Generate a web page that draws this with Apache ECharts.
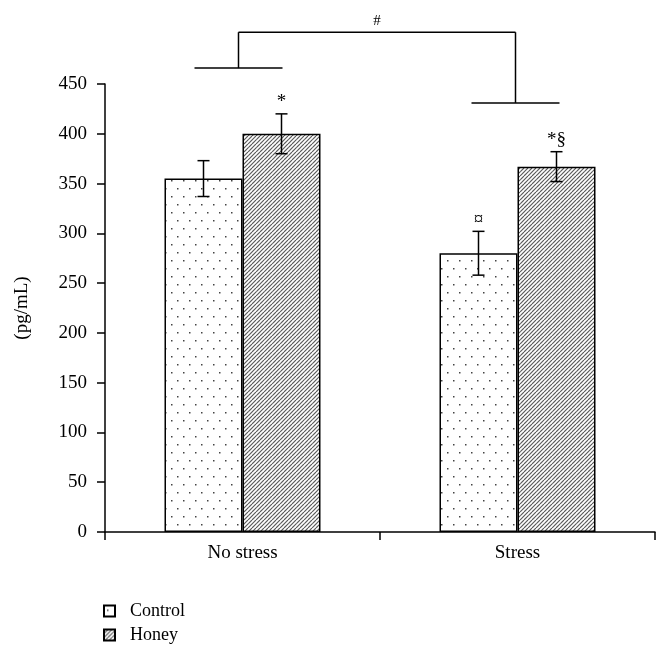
<!DOCTYPE html>
<html>
<head>
<meta charset="utf-8">
<script src="https://cdn.jsdelivr.net/npm/echarts@6/dist/echarts.min.js"></script>
<style>
  html, body { margin: 0; padding: 0; background: #fff; }
  #chart { width: 662px; height: 663px; }
</style>
</head>
<body>
<div id="chart"></div>
<script>
// ---- data ----
const categories = ['No stress', 'Stress'];
const controlVals = [355, 280];
const honeyVals = [400, 367];
const controlErr = [18, 22];
const honeyErr = [20, 15];
const controlMarks = ['', '¤'];
const honeyMarks = ['*', '*§'];
const yTicks = [0, 50, 100, 150, 200, 250, 300, 350, 400, 450];
const bracketLevels = [466, 431];   // group bracket heights (value units)
const bracketTop = 502;
const bracketLabel = '#';

// ---- styles ----
const FONT = '"Liberation Serif", "DejaVu Serif", serif';
const BAR_W = 78;

function dotPattern() {
  const c = document.createElement('canvas');
  c.width = 12; c.height = 16;
  const g = c.getContext('2d');
  g.fillStyle = '#fff'; g.fillRect(0, 0, 12, 16);
  g.fillStyle = '#444';
  g.fillRect(3, 4, 1.5, 1.5);
  g.fillRect(9, 12, 1.5, 1.5);
  return c;
}
function hatchPattern() {
  const s = 8;
  const c = document.createElement('canvas');
  c.width = s; c.height = s;
  const g = c.getContext('2d');
  g.fillStyle = '#fff'; g.fillRect(0, 0, s, s);
  g.strokeStyle = '#5a5a5a';
  g.lineWidth = 1.2;
  for (let k = -8; k <= 24; k += 4) {
    g.beginPath();
    g.moveTo(k, 0);
    g.lineTo(k - s, s);
    g.stroke();
  }
  return c;
}

const chart = echarts.init(document.getElementById('chart'), null, { renderer: 'canvas' });

function errData(vals, errs) {
  return vals.map((v, i) => [i, v, errs[i]]);
}

function errRender(offset, marks) {
  return function (params, api) {
    const i = api.value(0), v = api.value(1), e = api.value(2);
    const top = api.coord([i, v + e]);
    const bot = api.coord([i, v - e]);
    const x = top[0] + offset;
    const cap = 6;
    const ls = { stroke: '#000', lineWidth: 1.5 };
    const children = [
      { type: 'line', shape: { x1: x, y1: top[1], x2: x, y2: bot[1] }, style: ls },
      { type: 'line', shape: { x1: x - cap, y1: top[1], x2: x + cap, y2: top[1] }, style: ls },
      { type: 'line', shape: { x1: x - cap, y1: bot[1], x2: x + cap, y2: bot[1] }, style: ls }
    ];
    const label = marks[params.dataIndex];
    if (label) {
      children.push({
        type: 'text',
        style: { text: label, x: x, y: top[1] - 2, textAlign: 'center', textVerticalAlign: 'bottom',
                 font: '19px ' + FONT, fill: '#000' }
      });
    }
    return { type: 'group', children: children };
  };
}

const bracketData = [[0, bracketLevels[0], 1, bracketLevels[1], bracketTop]];

function bracketRender(params, api) {
  const a = api.coord([api.value(0), api.value(1)]);
  const b = api.coord([api.value(2), api.value(3)]);
  const t = api.coord([0, api.value(4)]);
  const half = 44;
  const ax = a[0] - 4, bx = b[0] - 2;
  const ls = { stroke: '#000', lineWidth: 1.5 };
  return {
    type: 'group',
    children: [
      { type: 'line', shape: { x1: ax - half, y1: a[1], x2: ax + half, y2: a[1] }, style: ls },
      { type: 'line', shape: { x1: ax, y1: a[1], x2: ax, y2: t[1] }, style: ls },
      { type: 'line', shape: { x1: bx - half, y1: b[1], x2: bx + half, y2: b[1] }, style: ls },
      { type: 'line', shape: { x1: bx, y1: b[1], x2: bx, y2: t[1] }, style: ls },
      { type: 'line', shape: { x1: ax, y1: t[1], x2: bx, y2: t[1] }, style: ls },
      { type: 'text', style: { text: bracketLabel, x: (ax + bx) / 2, y: t[1] - 4, textAlign: 'center',
        textVerticalAlign: 'bottom', font: '15px ' + FONT, fill: '#000' } }
    ]
  };
}

const option = {
  animation: false,
  backgroundColor: '#fff',
  textStyle: { fontFamily: FONT, color: '#000' },
  grid: { left: 105, right: 7, top: 84, bottom: 131, containLabel: false },
  legend: {
    data: ['Control', 'Honey'],
    orient: 'vertical',
    left: 98, top: 597,
    itemWidth: 11, itemHeight: 11, itemGap: 6,
    icon: 'rect',
    textStyle: { fontFamily: FONT, fontSize: 18, color: '#000', padding: [0, 0, 0, 10] }
  },
  xAxis: {
    type: 'category',
    data: categories,
    axisLine: { lineStyle: { color: '#000', width: 1.5 } },
    axisTick: { show: true, length: 8, interval: 0, lineStyle: { color: '#000', width: 1.5 } },
    axisLabel: { fontFamily: FONT, fontSize: 19, color: '#000', margin: 12 }
  },
  yAxis: {
    type: 'value',
    min: 0, max: 450, interval: 50,
    name: '(pg/mL)',
    nameLocation: 'middle',
    nameGap: 73,
    nameTextStyle: { fontFamily: FONT, fontSize: 19, color: '#000' },
    axisLine: { show: true, lineStyle: { color: '#000', width: 1.5 } },
    axisTick: { show: true, length: 8, lineStyle: { color: '#000', width: 1.5 } },
    axisLabel: { fontFamily: FONT, fontSize: 19, color: '#000', margin: 18,
      formatter: v => (yTicks.indexOf(v) >= 0 ? String(v) : '') },
    splitLine: { show: false }
  },
  series: [
    {
      name: 'Control', type: 'bar', data: controlVals, barWidth: BAR_W, barGap: '0%',
      itemStyle: { color: { image: dotPattern(), repeat: 'repeat' }, borderColor: '#000', borderWidth: 1.5 }
    },
    {
      name: 'Honey', type: 'bar', data: honeyVals, barWidth: BAR_W, barGap: '0%',
      itemStyle: { color: { image: hatchPattern(), repeat: 'repeat' }, borderColor: '#000', borderWidth: 1.5 }
    },
    {
      name: 'ctrlErr', type: 'custom', data: errData(controlVals, controlErr),
      encode: { x: 0, y: 1 }, renderItem: errRender(-BAR_W / 2, controlMarks), z: 5, clip: false
    },
    {
      name: 'honeyErr', type: 'custom', data: errData(honeyVals, honeyErr),
      encode: { x: 0, y: 1 }, renderItem: errRender(BAR_W / 2, honeyMarks), z: 5, clip: false
    },
    {
      name: 'brackets', type: 'custom', data: bracketData,
      encode: { x: 0, y: 1 }, renderItem: bracketRender, z: 5, clip: false
    }
  ]
};
chart.setOption(option);
</script>
</body>
</html>
